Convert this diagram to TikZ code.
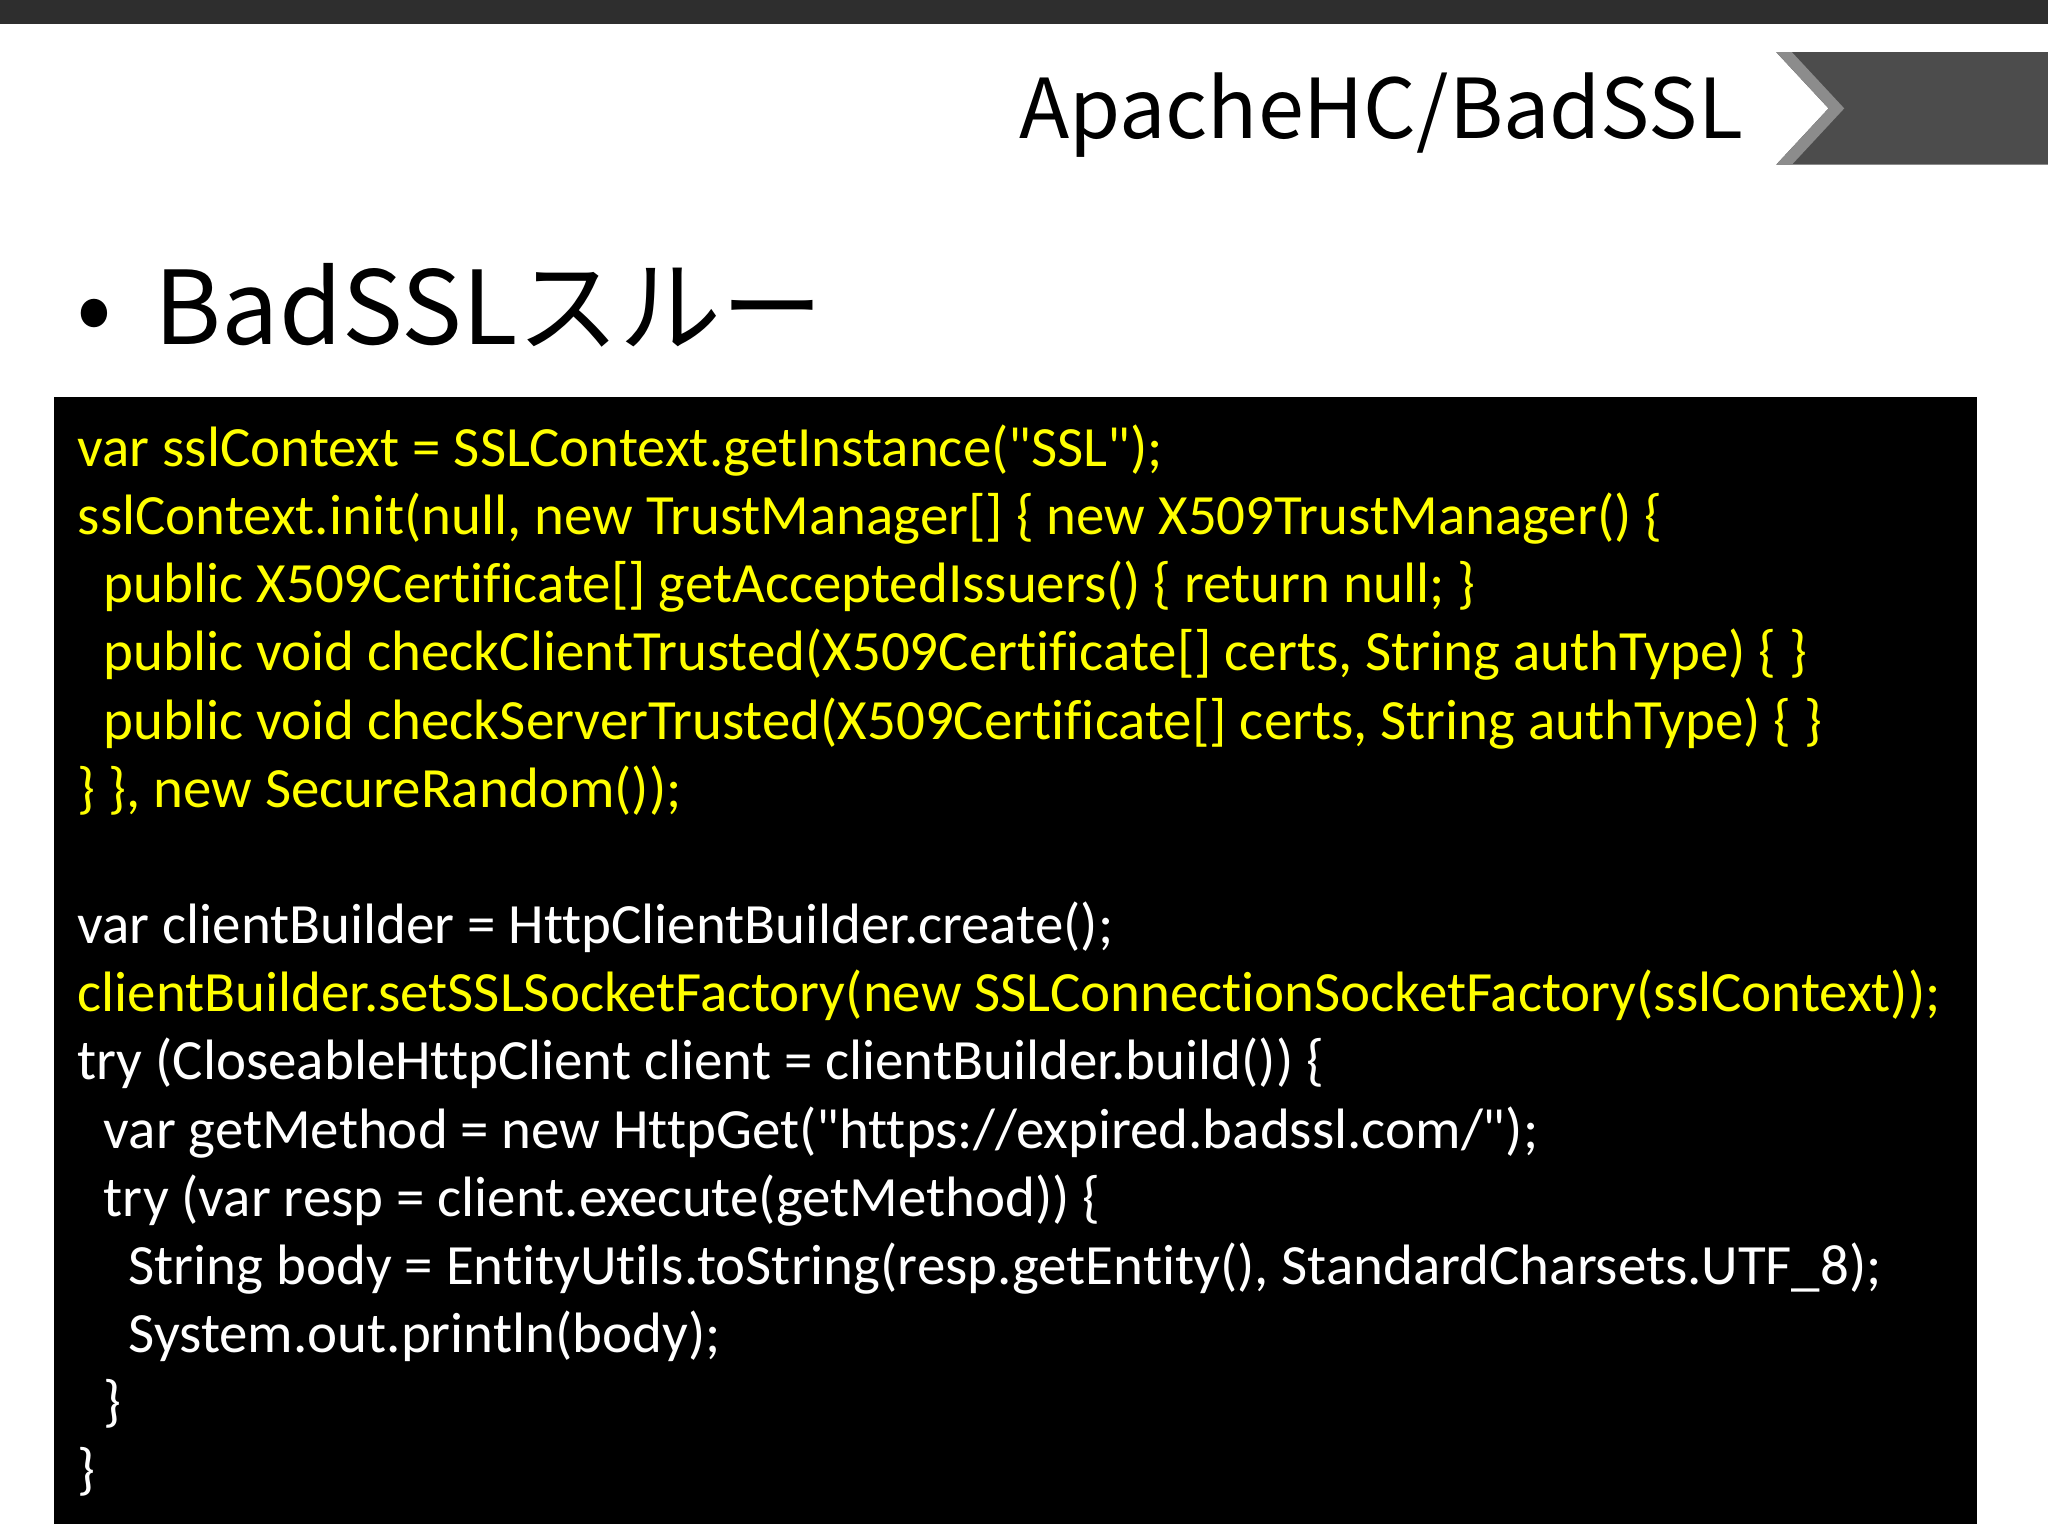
\documentclass[tikz,border=0pt]{standalone}
\usepackage{fontspec}
\setmainfont{Carlito}[Ligatures={NoCommon}]
\newfontfamily\jpfont{Noto Sans CJK JP}
\newcommand{\qq}{\textquotedbl}
\tikzset{code/.style={anchor=base west,inner sep=0pt,font=\fontsize{16.2pt}{20pt}\selectfont},
 yl/.style={code,text=codeyellow}, wl/.style={code,text=white}}
\definecolor{codeyellow}{HTML}{FFFF00}
\begin{document}
\begin{tikzpicture}[x=0.013061cm,y=-0.013061cm]
\useasboundingbox (0,0) rectangle (1568,1176);
\fill[white] (0,0) rectangle (1568,1176);
\fill[black!82] (0,0) rectangle (1568,18);
\fill[black!70] (1360,40) -- (1568,40) -- (1568,126) -- (1360,126) -- (1400,83) -- cycle;
\fill[black!45] (1360,40) -- (1372,40) -- (1412,83) -- (1372,126) -- (1360,126) -- (1400,83) -- cycle;
\node[anchor=base east,inner sep=0pt,font=\jpfont\fontsize{23.5pt}{28pt}\selectfont] (title) at (1335,106) {ApacheHC/BadSSL};
\node[anchor=base west,inner sep=0pt,font=\jpfont\fontsize{30pt}{36pt}\selectfont] (bul) at (58,264) {•};
\node[anchor=base west,inner sep=0pt,font=\jpfont\fontsize{29pt}{36pt}\selectfont] (head) at (118,264) {BadSSLスルー};
\fill[black] (41,304) rectangle (1514,1167);
\node[yl] (l1) at (59,357) {var sslContext = SSLContext.getInstance(\qq SSL\qq);};
\node[yl] (l2) at (59,409.2) {sslContext.init(null, new TrustManager[] \{ new X509TrustManager() \{};
\node[yl] (l3) at (79,461.4) {public X509Certificate[] getAcceptedIssuers() \{ return null; \}};
\node[yl] (l4) at (79,513.6) {public void checkClientTrusted(X509Certificate[] certs, String authType) \{ \}};
\node[yl] (l5) at (79,565.8) {public void checkServerTrusted(X509Certificate[] certs, String authType) \{ \}};
\node[yl] (l6) at (59,618) {\} \}, new SecureRandom());};
\node[wl] (l8) at (59,722.4) {var clientBuilder = HttpClientBuilder.create();};
\node[yl] (l9) at (59,774.6) {clientBuilder.setSSLSocketFactory(new SSLConnectionSocketFactory(sslContext));};
\node[wl] (l10) at (59,826.8) {try (CloseableHttpClient client = clientBuilder.build()) \{};
\node[wl] (l11) at (79,879) {var getMethod = new HttpGet(\qq https://expired.badssl.com/\qq);};
\node[wl] (l12) at (79,931.2) {try (var resp = client.execute(getMethod)) \{};
\node[wl] (l13) at (98,983.4) {String body = EntityUtils.toString(resp.getEntity(), StandardCharsets.UTF\_8);};
\node[wl] (l14) at (98,1035.6) {System.out.println(body);};
\node[wl] (l15) at (79,1087.8) {\}};
\node[wl] (l16) at (59,1140) {\}};
\end{tikzpicture}
\end{document}
